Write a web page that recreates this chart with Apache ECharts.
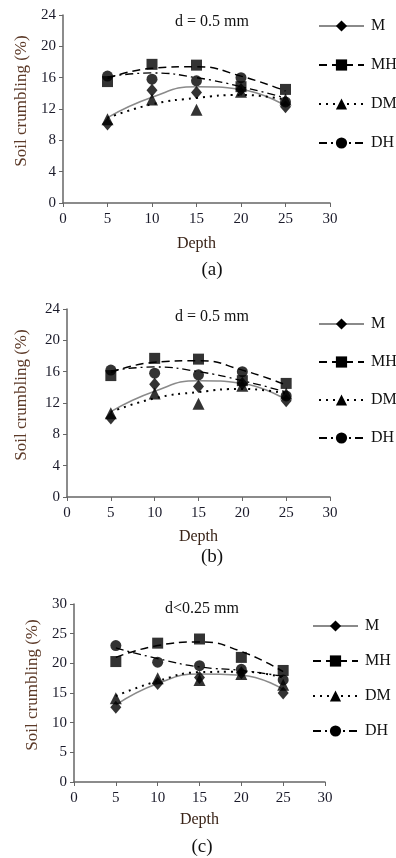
<!DOCTYPE html>
<html>
<head>
<meta charset="utf-8">
<script src="https://cdn.jsdelivr.net/npm/echarts@6/dist/echarts.min.js"></script>
<style>
html,body{margin:0;padding:0;background:#fff;}
#a,#b,#c{position:absolute;left:0;width:396px;}
#a{top:0;height:290px;}
#b{top:290px;height:290px;}
#c{top:580px;height:278px;}
</style>
</head>
<body>
<div id="a"></div>
<div id="b"></div>
<div id="c"></div>
<script>
// ---- data ----
const depth = [5, 10, 15, 20, 25];
const names = ['M', 'MH', 'DM', 'DH'];
const xTicks = [0, 5, 10, 15, 20, 25, 30];
const yTicksAB = [0, 4, 8, 12, 16, 20, 24];
const yTicksC = [0, 5, 10, 15, 20, 25, 30];

// panel (a)/(b): d = 0.5 mm  (measured points)
const a_M  = [10.1, 14.4, 14.1, 14.5, 12.3];
const a_MH = [15.5, 17.7, 17.6, 14.85, 14.5];
const a_DM = [10.7, 13.2, 11.9, 14.2, 13.2];
const a_DH = [16.2, 15.8, 15.6, 16.0, 12.9];
// trend lines
const a_M_t  = [10.9, 13.5, 14.85, 14.5, 12.4];
const a_MH_t = [15.9, 17.2, 17.4, 16.2, 14.3];
const a_DM_t = [10.85, 12.6, 13.4, 13.8, 13.2];
const a_DH_t = [16.1, 16.6, 16.0, 14.85, 13.4];

// panel (c): d<0.25 mm
const c_M  = [12.6, 16.6, 17.6, 18.4, 15.0];
const c_MH = [20.3, 23.4, 24.1, 21.0, 18.8];
const c_DM = [14.1, 17.5, 17.2, 18.2, 16.4];
const c_DH = [23.0, 20.2, 19.6, 19.0, 17.2];
const c_M_t  = [13.0, 16.6, 18.2, 18.0, 15.6];
const c_MH_t = [21.0, 23.0, 23.6, 22.0, 18.6];
const c_DM_t = [14.5, 17.0, 18.5, 18.6, 17.6];
const c_DH_t = [22.6, 20.8, 19.4, 18.8, 17.8];

const FONT = 'Liberation Serif';
const styles = {
  M:  {symbol: 'diamond', size: [11, 13], line: {color: '#8a8a8a', width: 1.5, type: 'solid'}},
  MH: {symbol: 'rect', size: 11, line: {color: '#000', width: 1.5, type: [8, 5]}},
  DM: {symbol: 'triangle', size: 12, line: {color: '#000', width: 2, type: [2, 5]}},
  DH: {symbol: 'circle', size: 11, line: {color: '#000', width: 1.3, type: [8, 4, 2, 4]}}
};

function pairs(ys) { return depth.map((x, i) => [x, ys[i]]); }

function build(cfg) {
  const series = [];
  names.forEach((n, i) => {
    const s = styles[n];
    series.push({
      name: n, type: 'line', smooth: true, data: pairs(cfg.trend[i]),
      symbol: s.symbol, symbolSize: s.size, showSymbol: false,
      lineStyle: s.line, itemStyle: {color: '#000'}, z: 2, silent: true
    });
  });
  names.forEach((n, i) => {
    const s = styles[n];
    series.push({
      name: n + ' data', type: 'scatter', data: pairs(cfg.points[i]),
      symbol: s.symbol, symbolSize: s.size, itemStyle: {color: '#000'}, z: 3
    });
  });
  const yt = cfg.yTicks;
  return {
    animation: false,
    backgroundColor: '#fff',
    title: [
      {text: cfg.title, left: cfg.titleX, top: cfg.titleY, textAlign: 'center',
       textStyle: {fontFamily: FONT, fontSize: 16, fontWeight: 'normal', color: '#111'}},
      {text: cfg.cap, left: cfg.capX, top: cfg.capY, textAlign: 'center',
       textStyle: {fontFamily: FONT, fontSize: 19, fontWeight: 'normal', color: '#111'}}
    ],
    legend: {
      orient: 'vertical', left: cfg.legLeft, top: cfg.legTop, itemGap: cfg.legGap,
      itemWidth: 45, itemHeight: 14, data: names,
      textStyle: {fontFamily: FONT, fontSize: 16, color: '#111', padding: [0, 0, 0, 2]},
      selectedMode: false
    },
    grid: {left: cfg.grid[0], top: cfg.grid[1], width: cfg.grid[2], height: cfg.grid[3]},
    xAxis: {
      type: 'value', min: xTicks[0], max: xTicks[xTicks.length - 1], interval: 5,
      name: 'Depth', nameLocation: 'middle', nameGap: cfg.xNameGap,
      nameTextStyle: {fontFamily: FONT, fontSize: 16, color: '#3a2418'},
      axisLine: {show: true, lineStyle: {color: '#666', width: 1.5}},
      axisTick: {show: true, length: 4, lineStyle: {color: '#666'}},
      axisLabel: {fontFamily: FONT, fontSize: 15, color: '#1a1a2a', margin: 9},
      splitLine: {show: false}
    },
    yAxis: {
      type: 'value', min: yt[0], max: yt[yt.length - 1], interval: yt[1] - yt[0],
      name: 'Soil crumbling (%)', nameLocation: 'middle', nameGap: cfg.yNameGap,
      nameTextStyle: {fontFamily: FONT, fontSize: 17, color: '#5c3a28', padding: [0, 0, 0, cfg.yShift]},
      axisLine: {show: true, lineStyle: {color: '#666', width: 1.5}},
      axisTick: {show: true, length: 4, lineStyle: {color: '#666'}},
      axisLabel: {fontFamily: FONT, fontSize: 15, color: '#1a1a2a', margin: 7},
      splitLine: {show: false}
    },
    series: series
  };
}

const cfgA = {
  title: 'd = 0.5 mm', titleX: 207, titleY: 9, cap: '(a)', capX: 207, capY: 256,
  legLeft: 313, legTop: 13, legGap: 23, grid: [63, 15, 267, 188],
  xNameGap: 33, yNameGap: 31, yShift: 16, yTicks: yTicksAB,
  points: [a_M, a_MH, a_DM, a_DH], trend: [a_M_t, a_MH_t, a_DM_t, a_DH_t]
};
const cfgB = {
  title: 'd = 0.5 mm', titleX: 207, titleY: 14, cap: '(b)', capX: 207, capY: 253,
  legLeft: 313, legTop: 21, legGap: 22, grid: [67, 19, 263, 188],
  xNameGap: 32, yNameGap: 37, yShift: 16, yTicks: yTicksAB,
  points: [a_M, a_MH, a_DM, a_DH], trend: [a_M_t, a_MH_t, a_DM_t, a_DH_t]
};
const cfgC = {
  title: 'd<0.25 mm', titleX: 197, titleY: 16, cap: '(c)', capX: 197, capY: 253,
  legLeft: 307, legTop: 33, legGap: 19, grid: [74, 24, 251, 178],
  xNameGap: 30, yNameGap: 32, yShift: 16, yTicks: yTicksC,
  points: [c_M, c_MH, c_DM, c_DH], trend: [c_M_t, c_MH_t, c_DM_t, c_DH_t]
};

echarts.init(document.getElementById('a'), null, {renderer: 'canvas'}).setOption(build(cfgA));
echarts.init(document.getElementById('b'), null, {renderer: 'canvas'}).setOption(build(cfgB));
echarts.init(document.getElementById('c'), null, {renderer: 'canvas'}).setOption(build(cfgC));
</script>
</body>
</html>
